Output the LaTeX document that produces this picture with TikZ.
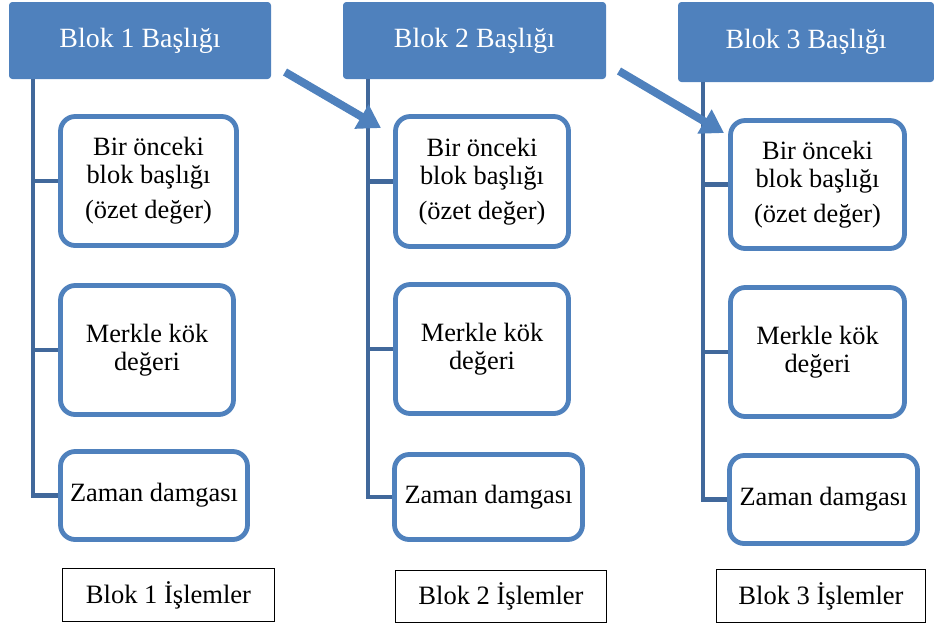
\documentclass[tikz,border=0pt]{standalone}
\usepackage{fontspec}
\setmainfont{Liberation Serif}
\usetikzlibrary{arrows.meta}
\definecolor{hdrblue}{RGB}{79,129,189}
\definecolor{linkblue}{RGB}{65,104,155}
\tikzset{
  hdr/.style 2 args={fill=hdrblue, draw=none, rounded corners=2.5pt, text=white,
    font=\fontsize{20.9}{24}\selectfont, inner sep=0pt,
    minimum width=#1*0.75pt, minimum height=#2*0.75pt},
  child/.style 2 args={draw=hdrblue, fill=white, line width=3.6pt, rounded corners=11pt,
    font=\fontsize{19.8}{21}\selectfont, align=center, inner sep=0pt,
    minimum width=#1*0.75pt, minimum height=#2*0.75pt},
  txbox/.style 2 args={draw=black, fill=white, line width=0.8pt,
    font=\fontsize{19.9}{22}\selectfont, inner sep=0pt,
    minimum width=#1*0.75pt, minimum height=#2*0.75pt},
  conn/.style={draw=linkblue, line width=3.6pt},
  bigarrow/.style={draw=hdrblue, line width=6pt,
    -{Triangle[length=17pt 0 0, width=20pt 0 0]}},
}
\begin{document}
\begin{tikzpicture}[x=0.75pt, y=-0.75pt]
\useasboundingbox (0,0) rectangle (934,626);

% Block 1
\node[hdr={262}{77}] (h1) at (140,40.5) {Blok 1 Başlığı};
\node[child={176}{129}] (b11) at (148.5,181) {Bir önceki\\blok başlığı\\[5pt](özet değer)};
\node[child={173}{129}] (b12) at (147,350) {Merkle kök\\değeri};
\node[child={187}{88}] (b13) at (154,495.5) {Zaman damgası};
\node[txbox={212}{53}] (t1) at (168.5,595) {Blok 1 İşlemler};

% Block 2
\node[hdr={263}{77}] (h2) at (474.5,40.5) {Blok 2 Başlığı};
\node[child={173}{130}] (b21) at (482,181.5) {Bir önceki\\blok başlığı\\[5pt](özet değer)};
\node[child={173}{129}] (b22) at (482,349) {Merkle kök\\değeri};
\node[child={188}{85}] (b23) at (488.5,497) {Zaman damgası};
\node[txbox={211}{52}] (t2) at (501,596.5) {Blok 2 İşlemler};

% Block 3
\node[hdr={256}{80}] (h3) at (806,42) {Blok 3 Başlığı};
\node[child={174}{128}] (b31) at (817.5,184.5) {Bir önceki\\blok başlığı\\[5pt](özet değer)};
\node[child={174}{129}] (b32) at (817.5,352) {Merkle kök\\değeri};
\node[child={188}{88}] (b33) at (823.5,499.5) {Zaman damgası};
\node[txbox={209}{53}] (t3) at (821,596) {Blok 3 İşlemler};

% connectors
\coordinate (v1) at (33,79);
\coordinate (v2) at (368,79);
\coordinate (v3) at (703,82);
\draw[conn] (v1) |- (b13.west);
\draw[conn] (v1 |- b11.west) -- (b11.west);
\draw[conn] (v1 |- b12.west) -- (b12.west);
\draw[conn] (v2) |- (b23.west);
\draw[conn] (v2 |- b21.west) -- (b21.west);
\draw[conn] (v2 |- b22.west) -- (b22.west);
\draw[conn] (v3) |- (b33.west);
\draw[conn] (v3 |- b31.west) -- (b31.west);
\draw[conn] (v3 |- b32.west) -- (b32.west);

% block arrows
\coordinate (a1s) at (285,72);
\coordinate (a1e) at (381,128);
\coordinate (a2s) at (619,71);
\coordinate (a2e) at (724,133);
\draw[bigarrow] (a1s) -- (a1e);
\draw[bigarrow] (a2s) -- (a2e);
\end{tikzpicture}
\end{document}
